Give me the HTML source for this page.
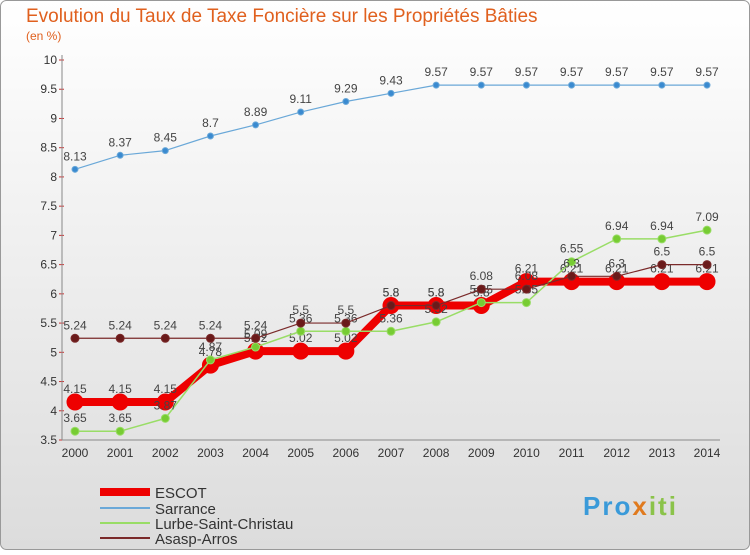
<!DOCTYPE html>
<html><head><meta charset="utf-8"><style>
body{margin:0;width:750px;height:550px;overflow:hidden;font-family:"Liberation Sans",sans-serif}
</style></head><body>
<svg id="c" width="750" height="550" xmlns="http://www.w3.org/2000/svg">
<defs><linearGradient id="bg" x1="0" y1="0" x2="0" y2="1"><stop offset="0" stop-color="#ffffff"/><stop offset="1" stop-color="#dcdcdc"/></linearGradient></defs>
<rect x="0.5" y="0.5" width="749" height="549" rx="6" fill="url(#bg)" stroke="#999"/>
<text x="26" y="22" font-size="19" fill="#e0601e">Evolution du Taux de Taxe Foncière sur les Propriétés Bâties</text>
<text x="26" y="40" font-size="12" fill="#e0601e">(en %)</text>
<g id="plot"></g>
<g>
<line x1="100" y1="492" x2="150" y2="492" stroke="#ee0000" stroke-width="8"/>
<text x="155" y="498" font-size="15" fill="#333">ESCOT</text>
<line x1="100" y1="508" x2="150" y2="508" stroke="#6aa8d8" stroke-width="2"/>
<text x="155" y="514" font-size="15" fill="#333">Sarrance</text>
<line x1="100" y1="523" x2="150" y2="523" stroke="#99dd66" stroke-width="2"/>
<text x="155" y="529" font-size="15" fill="#333">Lurbe-Saint-Christau</text>
<line x1="100" y1="538" x2="150" y2="538" stroke="#7a2a2a" stroke-width="2"/>
<text x="155" y="544" font-size="15" fill="#333">Asasp-Arros</text>
</g>
<text x="583" y="515" font-size="26" font-weight="bold" fill="#3a9ad9" letter-spacing="2">Pro<tspan fill="#e07a1e">x</tspan><tspan fill="#8bc34a">iti</tspan></text>
</svg>
<script>
const years=[2000,2001,2002,2003,2004,2005,2006,2007,2008,2009,2010,2011,2012,2013,2014];
const yTicks=[3.5,4,4.5,5,5.5,6,6.5,7,7.5,8,8.5,9,9.5,10];
const escot=[4.15,4.15,4.15,4.78,5.02,5.02,5.02,5.8,5.8,5.8,6.21,6.21,6.21,6.21,6.21];
const sarrance=[8.13,8.37,8.45,8.7,8.89,9.11,9.29,9.43,9.57,9.57,9.57,9.57,9.57,9.57,9.57];
const lurbe=[3.65,3.65,3.87,4.87,5.09,5.36,5.36,5.36,5.52,5.85,5.85,6.55,6.94,6.94,7.09];
const asasp=[5.24,5.24,5.24,5.24,5.24,5.5,5.5,5.8,5.8,6.08,6.08,6.3,6.3,6.5,6.5];
const NS="http://www.w3.org/2000/svg";
const g=document.getElementById('plot');
const x0=75,x1=707,yTop=60,yBot=440,vMin=3.5,vMax=10;
const X=i=>x0+(x1-x0)*i/(years.length-1);
const Y=v=>yBot-(v-vMin)/(vMax-vMin)*(yBot-yTop);
function el(t,a){const e=document.createElementNS(NS,t);for(const k in a)e.setAttribute(k,a[k]);g.appendChild(e);return e;}
yTicks.forEach(v=>{
 const l=el('line',{x1:x0-16,x2:x0-11,y1:Y(v),y2:Y(v),stroke:'#cc3333'});
 
 
 const t=el('text',{x:x0-18,y:Y(v)+4,'font-size':12,fill:'#333','text-anchor':'end'});
 t.textContent=v;
 
 
});
const ax=el('line',{x1:x0-13,x2:x0-13,y1:yTop-5,y2:yBot,stroke:'#888'});


const bx=el('line',{x1:x0-13,x2:x1+13,y1:yBot,y2:yBot,stroke:'#888'});


years.forEach((yr,i)=>{
 const t=el('text',{x:X(i),y:yBot+17,'font-size':12,fill:'#333','text-anchor':'middle'});
 t.textContent=yr;
 
 
});
function series(name,vals,color,w,r,dot){
 const p=el('polyline',{points:vals.map((v,i)=>X(i)+','+Y(v)).join(' '),fill:'none',stroke:color,'stroke-width':w,'stroke-linejoin':'round'});
 
 
 vals.forEach((v,i)=>{
  const c=el('circle',{cx:X(i),cy:Y(v),r:r,fill:dot,stroke:color,'stroke-width':1});
  
  
  const t=el('text',{x:X(i),y:Y(v)-9,'font-size':12,fill:'#444','text-anchor':'middle'});
  t.textContent=v;
  
  
 });
}
series('sarrance',sarrance,'#6aa8d8',1.2,3,'#3a8ad0');
series('escot',escot,'#ee0000',8,8,'#ee0000');
series('lurbe',lurbe,'#99dd66',1.5,4,'#77cc33');
series('asasp',asasp,'#7a2a2a',1.2,4,'#6a1a1a');
</script>
</body></html>
